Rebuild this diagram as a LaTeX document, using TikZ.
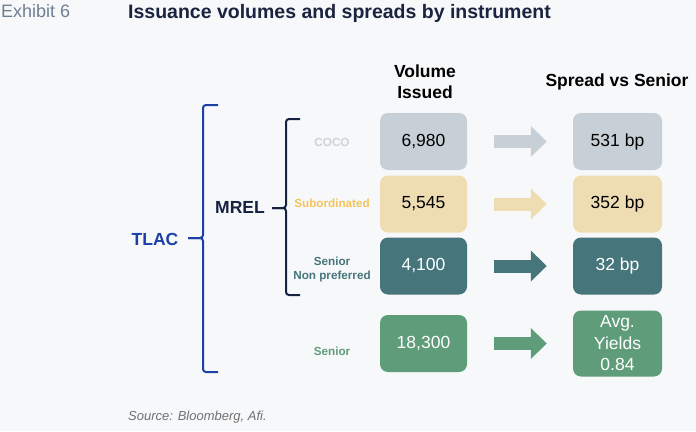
\documentclass[tikz,border=0pt]{standalone}
\usepackage{fontspec}
\setmainfont{Liberation Sans}
\usetikzlibrary{positioning,arrows.meta}
\definecolor{bg}{HTML}{F7F8FA}
\definecolor{cocogray}{HTML}{C6D0D6}
\definecolor{cocolab}{HTML}{CBD4D9}
\definecolor{subbeige}{HTML}{EEDDB3}
\definecolor{sublab}{HTML}{F4C45A}
\definecolor{snpteal}{HTML}{46757B}
\definecolor{srgreen}{HTML}{5F9C79}
\definecolor{tlacblue}{HTML}{1D3FA8}
\definecolor{mrelnavy}{HTML}{172241}
\definecolor{titlenavy}{HTML}{1A2340}
\definecolor{exgray}{HTML}{6E7F93}
\definecolor{srcgray}{HTML}{707070}
\begin{document}
\begin{tikzpicture}[x=1pt, y=-1pt, node distance={194pt},
	box/.style = {rounded corners=8pt, minimum width=87pt, minimum height=57pt, inner sep=0pt, align=center, font=\fontsize{17.5}{21.5}\selectfont},
	lab/.style = {align=center, font=\fontsize{11.7}{14}\selectfont\bfseries},
	head/.style = {align=center, font=\fontsize{17.5}{21}\selectfont\bfseries},
	arr/.style = {line width=13pt, -{Triangle[width=30pt,length=16pt]}, shorten <=27pt, shorten >=26pt},
	brc/.style = {line width=2pt, rounded corners=3pt}]
		\fill[bg] (0,0) rectangle (696,431);
		\useasboundingbox (0,0) rectangle (696,431);
		\node[anchor=base west, inner sep=0pt, text=exgray, font=\fontsize{18}{22}\selectfont] (exh) at (1,17) {Exhibit 6};
		\node[anchor=base west, inner sep=0pt, text=titlenavy, font=\fontsize{19.5}{23}\selectfont\bfseries] (title) at (128,18.3) {Issuance volumes and spreads by instrument};
		\node[head] (vol) at (425,82) {Volume\\Issued};
		\node[head, anchor=base] (spr) at (617,86) {Spread vs Senior};
		\node[box, fill=cocogray] (v1) at (423.5,141.5) {6,980};
		\node[box, fill=subbeige] (v2) at (423.5,204) {5,545};
		\node[box, fill=snpteal, text=white] (v3) at (423.5,266) {4,100};
		\node[box, fill=srgreen, text=white] (v4) at (423.5,343.5) {18,300};
		\node[box, fill=cocogray, minimum width=89pt] (s1) [right of=v1] {531 bp};
		\node[box, fill=subbeige, minimum width=89pt] (s2) [right of=v2] {352 bp};
		\node[box, fill=snpteal, text=white, minimum width=89pt] (s3) [right of=v3] {32 bp};
		\node[box, fill=srgreen, text=white, minimum width=89pt, minimum height=66pt] (s4) [right of=v4] {Avg.\\Yields\\0.84};
		\draw[arr, cocogray] (v1) -- (s1);
		\draw[arr, subbeige] (v2) -- (s2);
		\draw[arr, snpteal] (v3) -- (s3);
		\draw[arr, srgreen] (v4) -- (s4);
		\node[lab, text=cocolab] (l1) at (332,142) {COCO};
		\node[lab, text=sublab] (l2) at (332,203) {Subordinated};
		\node[lab, text=snpteal] (l3) at (332,269) {Senior\\Non preferred};
		\node[lab, text=srgreen] (l4) at (332,351) {Senior};
		\node[head, text=tlacblue] (tlac) at (155,239) {TLAC};
		\node[head, text=mrelnavy] (mrel) at (240,207) {MREL};
		% braces
		\draw[brc, tlacblue] (218,105) -- (203,105) -- (203,238) -- (188,238);
		\draw[brc, tlacblue] (218,372) -- (203,372) -- (203,238) -- (188,238);
		\draw[brc, mrelnavy] (300,119) -- (286,119) -- (286,208) -- (272,208);
		\draw[brc, mrelnavy] (300,295) -- (286,295) -- (286,208) -- (272,208);
		\node[anchor=base west, inner sep=0pt, text=srcgray, font=\fontsize{13}{15}\selectfont\itshape] (src) at (128,420) {Source: Bloomberg, Afi.};
	\end{tikzpicture}
\end{document}
